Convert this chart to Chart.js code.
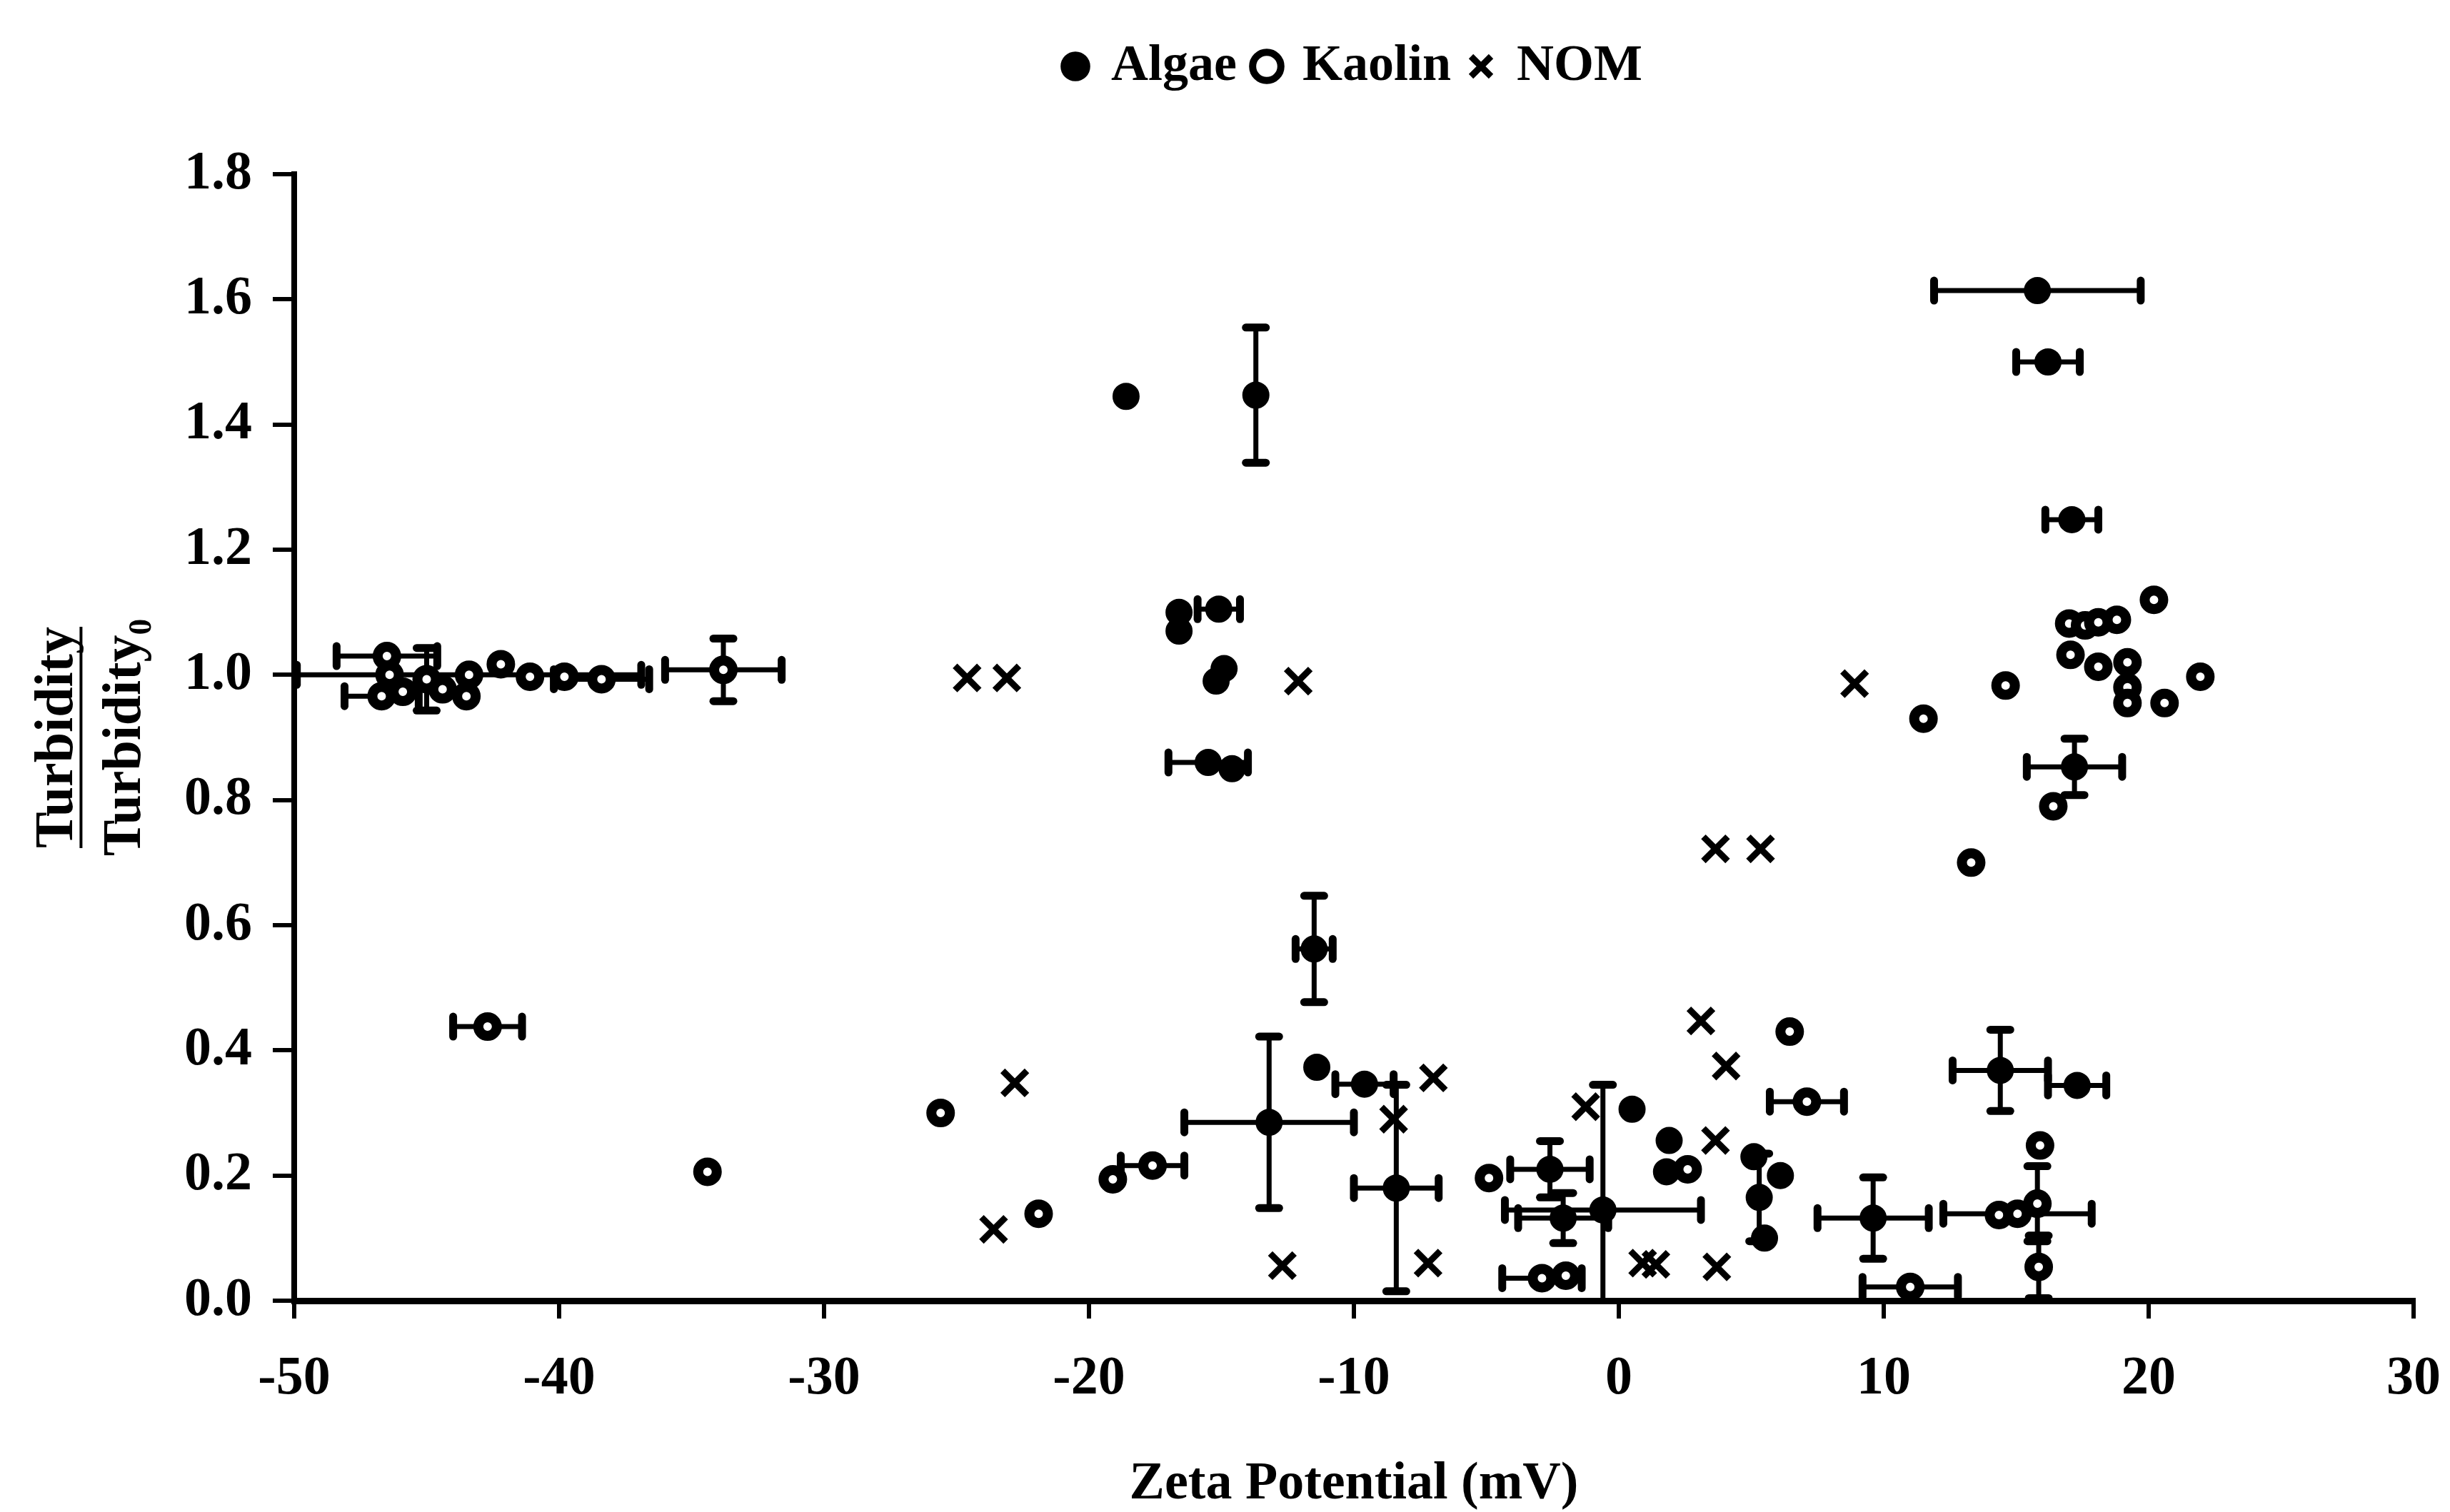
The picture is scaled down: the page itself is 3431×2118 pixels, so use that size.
<!DOCTYPE html>
<html>
<head>
<meta charset="utf-8">
<script src="https://cdn.jsdelivr.net/npm/chart.js@4.4.1/dist/chart.umd.min.js"></script>
<style>
  html, body { margin: 0; padding: 0; background: #fff; }
  #wrap { width: 3431px; height: 2118px; }
</style>
</head>
<body>
<div id="wrap"><canvas id="zetaChart"></canvas></div>
<script>
// Axis ticks
const zetaTicks = [-50, -40, -30, -20, -10, 0, 10, 20, 30];
const turbTicks = [0, 0.2, 0.4, 0.6, 0.8, 1.0, 1.2, 1.4, 1.6, 1.8];

// Algae: zeta potential (mV), turbidity ratio, and +/- error on each
const algaeZeta = [-18.6, -13.7, -15.1, -16.6, -16.6, -15.2, -14.9, -15.5, -14.6, -11.5, -11.4, -13.2, -9.6, -8.4, -2.6, -2.1, -0.6, 0.5, 1.8, 1.9, 5.1, 6.1, 5.3, 5.5, 9.6, 14.4, 17.3, 15.8, 16.2, 17.1, 17.2];
const algaeTurb = [1.445, 1.447, 1.105, 1.10, 1.07, 0.99, 1.01, 0.86, 0.85, 0.562, 0.373, 0.285, 0.346, 0.18, 0.21, 0.132, 0.145, 0.306, 0.206, 0.256, 0.23, 0.20, 0.165, 0.10, 0.132, 0.368, 0.344, 1.614, 1.50, 1.248, 0.853];
const algaeZetaErr = [0, 0, 0.8, 0, 0, 0, 0, 1.5, 0, 0.7, 0, 3.2, 1.1, 1.6, 1.5, 1.7, 3.7, 0, 0, 0, 0, 0, 0, 0, 2.1, 1.8, 1.1, 3.9, 1.2, 1.0, 1.8];
const algaeTurbErr = [0, 0.108, 0, 0, 0, 0, 0, 0, 0, 0.085, 0, 0.137, 0, 0.165, 0.045, 0.04, 0.2, 0, 0, 0, 0, 0, 0.07, 0, 0.065, 0.065, 0, 0, 0, 0, 0.045];

// Kaolin
const kaolinZeta = [-46.5, -46.4, -46.7, -45.9, -45.0, -44.4, -43.5, -43.4, -42.2, -41.1, -39.8, -38.4, -33.8, -42.7, -34.4, -25.6, -21.9, -19.1, -17.6, -4.9, -2.9, -2.0, 2.6, 6.45, 7.1, 11.0, 14.35, 15.05, 15.8, 15.9, 15.85, 11.5, 13.3, 14.6, 16.4, 17.0, 17.6, 18.1, 18.8, 20.2, 17.05, 18.1, 19.2, 19.2, 19.2, 20.6, 21.95];
const kaolinTurb = [1.03, 1.00, 0.966, 0.973, 0.993, 0.977, 0.966, 1.0, 1.017, 0.997, 0.997, 0.993, 1.008, 0.438, 0.206, 0.30, 0.139, 0.194, 0.216, 0.196, 0.036, 0.04, 0.21, 0.43, 0.318, 0.022, 0.137, 0.139, 0.155, 0.248, 0.054, 0.93, 0.70, 0.983, 0.79, 1.082, 1.079, 1.084, 1.088, 1.12, 1.032, 1.013, 1.02, 0.98, 0.955, 0.955, 0.997];
const kaolinZetaErr = [1.9, 0, 1.4, 0, 0, 0, 0, 6.5, 0, 0, 0, 1.8, 2.2, 1.3, 0, 0, 0, 0, 1.2, 0, 1.5, 0, 0, 0, 1.4, 1.8, 0, 2.8, 0, 0, 0, 0, 0, 0, 0, 0, 0, 0, 0, 0, 0, 0, 0, 0, 0, 0, 0];
const kaolinTurbErr = [0, 0, 0, 0, 0.05, 0, 0, 0, 0, 0, 0, 0, 0.05, 0, 0, 0, 0, 0, 0, 0, 0, 0, 0, 0, 0, 0, 0, 0, 0.06, 0, 0.05, 0, 0, 0, 0, 0, 0, 0, 0, 0, 0, 0, 0, 0, 0, 0, 0];

// NOM (no error bars)
const nomZeta = [-24.6, -23.1, -12.1, -22.8, -23.6, -12.7, -7.0, -8.5, -7.2, -1.25, 0.9, 1.4, 3.7, 3.1, 4.05, 3.65, 3.65, 5.35, 8.9];
const nomTurb = [0.995, 0.995, 0.99, 0.348, 0.114, 0.056, 0.356, 0.29, 0.06, 0.31, 0.06, 0.058, 0.054, 0.447, 0.375, 0.256, 0.722, 0.722, 0.986];

function toPoints(xs, ys, xErr, yErr) {
    return xs.map((x, i) => ({
        x: x,
        y: ys[i],
        xErr: xErr ? xErr[i] : 0,
        yErr: yErr ? yErr[i] : 0
    }));
}

function capLine(ctx, x, y, vertical) {
    const h = 14;
    ctx.beginPath();
    if (vertical) {
        ctx.moveTo(x, y - h);
        ctx.lineTo(x, y + h);
    } else {
        ctx.moveTo(x - h, y);
        ctx.lineTo(x + h, y);
    }
    ctx.lineWidth = 11;
    ctx.stroke();
}

// Draws x/y error bars under the markers
const errorBars = {
    id: 'errorBars',
    beforeDatasetsDraw(chart) {
        const { ctx, chartArea, scales: { x, y } } = chart;
        ctx.save();
        ctx.beginPath();
        ctx.rect(chartArea.left, chartArea.top - 50, chartArea.width + 50, chartArea.height + 50);
        ctx.clip();
        ctx.strokeStyle = '#000';
        ctx.lineCap = 'round';
        chart.data.datasets.forEach((ds, i) => {
            if (!chart.isDatasetVisible(i)) return;
            ds.data.forEach(p => {
                const px = x.getPixelForValue(p.x);
                const py = y.getPixelForValue(p.y);
                if (p.xErr) {
                    const x0 = x.getPixelForValue(p.x - p.xErr);
                    const x1 = x.getPixelForValue(p.x + p.xErr);
                    ctx.lineWidth = 7;
                    ctx.beginPath();
                    ctx.moveTo(x0, py);
                    ctx.lineTo(x1, py);
                    ctx.stroke();
                    capLine(ctx, x0, py, true);
                    capLine(ctx, x1, py, true);
                }
                if (p.yErr) {
                    const y0 = y.getPixelForValue(p.y - p.yErr);
                    const y1 = y.getPixelForValue(p.y + p.yErr);
                    ctx.lineWidth = 7;
                    ctx.beginPath();
                    ctx.moveTo(px, y0);
                    ctx.lineTo(px, y1);
                    ctx.stroke();
                    capLine(ctx, px, y0, false);
                    capLine(ctx, px, y1, false);
                }
            });
        });
        ctx.restore();
    }
};

// Extra room between the legend and the plot
const legendGap = {
    id: 'legendGap',
    beforeInit(chart) {
        const fitLegend = chart.legend.fit;
        chart.legend.fit = function () {
            fitLegend.call(this);
            this.height += 105;
        };
    }
};

// Fraction bar under the numerator of the y title
const fractionBar = {
    id: 'fractionBar',
    afterDraw(chart) {
        const { ctx, chartArea } = chart;
        const yScale = chart.scales.y;
        const title = yScale.options.title;
        const size = title.font.size;
        ctx.save();
        ctx.font = 'bold ' + size + 'px "Liberation Serif"';
        const w = ctx.measureText(title.text[0]).width;
        const lx = yScale.left + title.padding.top + size * title.font.lineHeight / 2 + size * 0.42;
        const cy = (chartArea.top + chartArea.bottom) / 2;
        ctx.strokeStyle = '#000';
        ctx.lineWidth = 4;
        ctx.beginPath();
        ctx.moveTo(lx, cy - w / 2);
        ctx.lineTo(lx, cy + w / 2);
        ctx.stroke();
        ctx.restore();
    }
};

Chart.defaults.font.family = '"Liberation Serif", "Times New Roman", serif';
Chart.defaults.font.weight = 'bold';
Chart.defaults.color = '#000';

const ctx = document.getElementById('zetaChart').getContext('2d');
new Chart(ctx, {
    type: 'scatter',
    data: {
        datasets: [
            {
                label: 'Algae',
                data: toPoints(algaeZeta, algaeTurb, algaeZetaErr, algaeTurbErr),
                pointStyle: 'circle',
                pointRadius: 18,
                borderWidth: 2,
                backgroundColor: '#000',
                borderColor: '#000'
            },
            {
                label: 'Kaolin',
                data: toPoints(kaolinZeta, kaolinTurb, kaolinZetaErr, kaolinTurbErr),
                pointStyle: 'circle',
                pointRadius: 13,
                borderWidth: 14,
                backgroundColor: '#fff',
                borderColor: '#000'
            },
            {
                label: 'NOM',
                data: toPoints(nomZeta, nomTurb),
                pointStyle: 'crossRot',
                pointRadius: 24,
                borderWidth: 9,
                backgroundColor: '#000',
                borderColor: '#000'
            }
        ]
    },
    options: {
        responsive: true,
        maintainAspectRatio: false,
        animation: false,
        events: [],
        layout: {
            padding: { top: 29, right: 51, bottom: 0, left: 0 }
        },
        plugins: {
            tooltip: { enabled: false },
            legend: {
                position: 'top',
                fullSize: false,
                labels: {
                    usePointStyle: true,
                    boxWidth: 28,
                    boxHeight: 28,
                    padding: 28,
                    font: { size: 72, weight: 'bold' },
                    generateLabels(chart) {
                        const items = Chart.defaults.plugins.legend.labels.generateLabels(chart);
                        return items.map(item => Object.assign(item, { lineWidth: Math.min(item.lineWidth, 10) }));
                    }
                }
            }
        },
        scales: {
            x: {
                type: 'linear',
                min: -50,
                max: 30,
                afterBuildTicks(scale) {
                    scale.ticks = zetaTicks.map(v => ({ value: v }));
                },
                afterFit(scale) {
                    scale.height = 296;
                    scale.paddingRight = 51;
                },
                ticks: {
                    padding: 40,
                    font: { size: 76, weight: 'bold' },
                    callback: v => String(v)
                },
                grid: {
                    drawOnChartArea: false,
                    drawTicks: true,
                    tickLength: 25,
                    lineWidth: 6,
                    color: '#000'
                },
                border: { display: true, color: '#000', width: 9 },
                title: {
                    display: true,
                    text: 'Zeta Potential (mV)',
                    font: { size: 74, weight: 'bold' },
                    padding: { top: 0, bottom: -6 }
                }
            },
            y: {
                type: 'linear',
                min: 0,
                max: 1.8,
                afterBuildTicks(scale) {
                    scale.ticks = turbTicks.map(v => ({ value: v }));
                },
                afterFit(scale) {
                    scale.width = 412;
                },
                ticks: {
                    padding: 29,
                    font: { size: 76, weight: 'bold' },
                    callback: v => Number(v).toFixed(1)
                },
                grid: {
                    drawOnChartArea: false,
                    drawTicks: true,
                    tickLength: 30,
                    lineWidth: 6,
                    color: '#000'
                },
                border: { display: true, color: '#000', width: 8 },
                title: {
                    display: true,
                    text: ['Turbidity', 'Turbidity\u2080'],
                    font: { size: 76, weight: 'bold', lineHeight: 1.25 },
                    padding: { top: 34, bottom: 0 }
                }
            }
        }
    },
    plugins: [errorBars, legendGap, fractionBar]
});
</script>
</body>
</html>
